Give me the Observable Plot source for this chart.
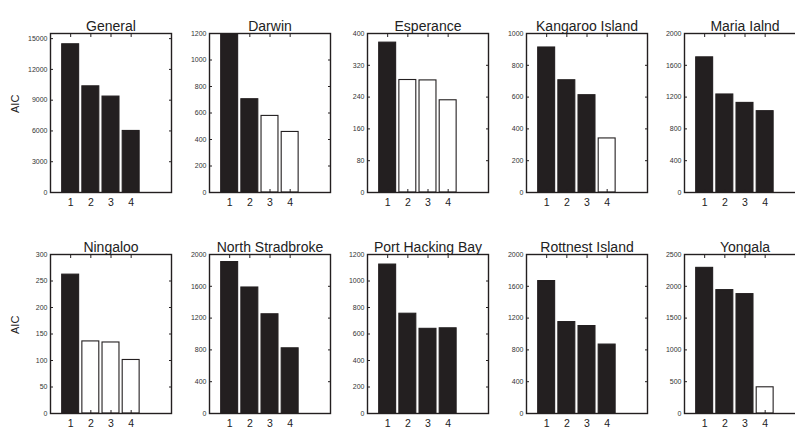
<!DOCTYPE html>
<html><head><meta charset="utf-8">
<script src="https://cdn.jsdelivr.net/npm/d3@7"></script>
<script src="https://cdn.jsdelivr.net/npm/@observablehq/plot@0.6"></script>
<style>
html,body{margin:0;padding:0;background:#fff;}
#root{position:relative;width:795px;height:429px;overflow:hidden;font-family:"Liberation Sans",Arial,Helvetica,sans-serif;}
.panel{position:absolute;}
.panel svg{overflow:visible;max-width:none !important;}
</style></head><body><div id="root"></div>
<script>
// ---- data ----
const sites = ["General","Darwin","Esperance","Kangaroo Island","Maria Ialnd",
               "Ningaloo","North Stradbroke","Port Hacking Bay","Rottnest Island","Yongala"];
const models = [1, 2, 3, 4];

const aicGeneral         = [14450, 10350, 9350, 6000];
const aicDarwin          = [1240, 704, 578, 457];
const aicEsperance       = [377, 283, 282, 232];
const aicKangaroo        = [912, 706, 612, 340];
const aicMaria           = [1700, 1233, 1127, 1023];
const aicNingaloo        = [262, 136, 134, 101];
const aicNorthStradbroke = [1905, 1585, 1248, 820];
const aicPortHacking     = [1124, 753, 639, 643];
const aicRottnest        = [1666, 1150, 1100, 867];
const aicYongala         = [2290, 1940, 1877, 412];

// 1 = filled (black) bar, 0 = open (white) bar
const filledGeneral         = [1, 1, 1, 1];
const filledDarwin          = [1, 1, 0, 0];
const filledEsperance       = [1, 0, 0, 0];
const filledKangaroo        = [1, 1, 1, 0];
const filledMaria           = [1, 1, 1, 1];
const filledNingaloo        = [1, 0, 0, 0];
const filledNorthStradbroke = [1, 1, 1, 1];
const filledPortHacking     = [1, 1, 1, 1];
const filledRottnest        = [1, 1, 1, 1];
const filledYongala         = [1, 1, 1, 0];

// y axis limits and tick values
const yLimits = [15500, 1200, 400, 1000, 2000, 300, 2000, 1200, 2000, 2500];
const yTicksGeneral   = [0, 3000, 6000, 9000, 12000, 15000];
const yTicksDarwin    = [0, 200, 400, 600, 800, 1000, 1200];
const yTicksEsperance = [0, 80, 160, 240, 320, 400];
const yTicksKangaroo  = [0, 200, 400, 600, 800, 1000];
const yTicksMaria     = [0, 400, 800, 1200, 1600, 2000];
const yTicksNingaloo  = [0, 50, 100, 150, 200, 250, 300];
const yTicksNS        = [0, 400, 800, 1200, 1600, 2000];
const yTicksPH        = [0, 200, 400, 600, 800, 1000, 1200];
const yTicksRott      = [0, 400, 800, 1200, 1600, 2000];
const yTicksYong      = [0, 500, 1000, 1500, 2000, 2500];
const xTicks = [1, 2, 3, 4];
const yLabel = "AIC";

const aics = [aicGeneral, aicDarwin, aicEsperance, aicKangaroo, aicMaria,
              aicNingaloo, aicNorthStradbroke, aicPortHacking, aicRottnest, aicYongala];
const filled = [filledGeneral, filledDarwin, filledEsperance, filledKangaroo, filledMaria,
                filledNingaloo, filledNorthStradbroke, filledPortHacking, filledRottnest, filledYongala];
const yTicks = [yTicksGeneral, yTicksDarwin, yTicksEsperance, yTicksKangaroo, yTicksMaria,
                yTicksNingaloo, yTicksNS, yTicksPH, yTicksRott, yTicksYong];

// ---- layout ----
const ink = "#231f20";
const mL = 45, mR = 6, mT = 33, mB = 22;
const frameW = 121, frameH = 159;
const colLeft = [50, 208.5, 367, 525.5, 684];
const rowTop = [33.3, 254];

const root = document.getElementById("root");
sites.forEach((site, i) => {
  const col = i % 5, row = Math.floor(i / 5);
  const data = models.map((m, j) => ({m, v: aics[i][j], f: filled[i][j]}));
  const marks = [
    Plot.rectY(data, {
      x1: d => d.m - 0.42, x2: d => d.m + 0.42, y1: 0, y2: "v",
      fill: d => d.f ? ink : "white", stroke: ink, strokeWidth: 1.1, clip: true
    }),
    Plot.axisY({anchor: "left", ticks: yTicks[i], tickSize: -3, tickPadding: 6, fontSize: 7,
                color: "#333", stroke: ink, label: null, tickFormat: d => String(d)}),
    Plot.axisY({anchor: "right", ticks: yTicks[i], tickSize: -3, tickFormat: () => "", label: null, stroke: ink}),
    Plot.axisX({anchor: "bottom", ticks: xTicks, tickSize: -3, tickPadding: 9, fontSize: 10.5,
                color: "#222", stroke: ink, label: null, tickFormat: d => String(d)}),
    Plot.axisX({anchor: "top", ticks: xTicks, tickSize: -3, tickFormat: () => "", label: null, stroke: ink}),
    Plot.frame({stroke: ink, strokeWidth: 1.4}),
    Plot.text([site], {text: d => d, frameAnchor: "top", dy: -12, fontSize: 14, fill: "#222"})
  ];
  if (col === 0) {
    marks.push(Plot.text([yLabel], {text: d => d, frameAnchor: "left", rotate: -90, dx: -35,
                                     fontSize: 11, fill: "#222"}));
  }
  const width = mL + frameW + mR;
  const chart = Plot.plot({
    width,
    height: mT + frameH + mB,
    marginLeft: mL, marginRight: mR, marginTop: mT, marginBottom: mB,
    style: {fontFamily: '"Liberation Sans", Arial, Helvetica, sans-serif', background: "transparent", overflow: "visible", maxWidth: "none"},
    x: {domain: [0, 6]},
    y: {domain: [0, yLimits[i]]},
    marks
  });
  const div = document.createElement("div");
  div.className = "panel";
  div.style.left = (colLeft[col] - mL) + "px";
  div.style.top = (rowTop[row] - mT) + "px";
  div.style.width = width + "px";
  div.appendChild(chart);
  root.appendChild(div);
});
</script>
</body></html>
